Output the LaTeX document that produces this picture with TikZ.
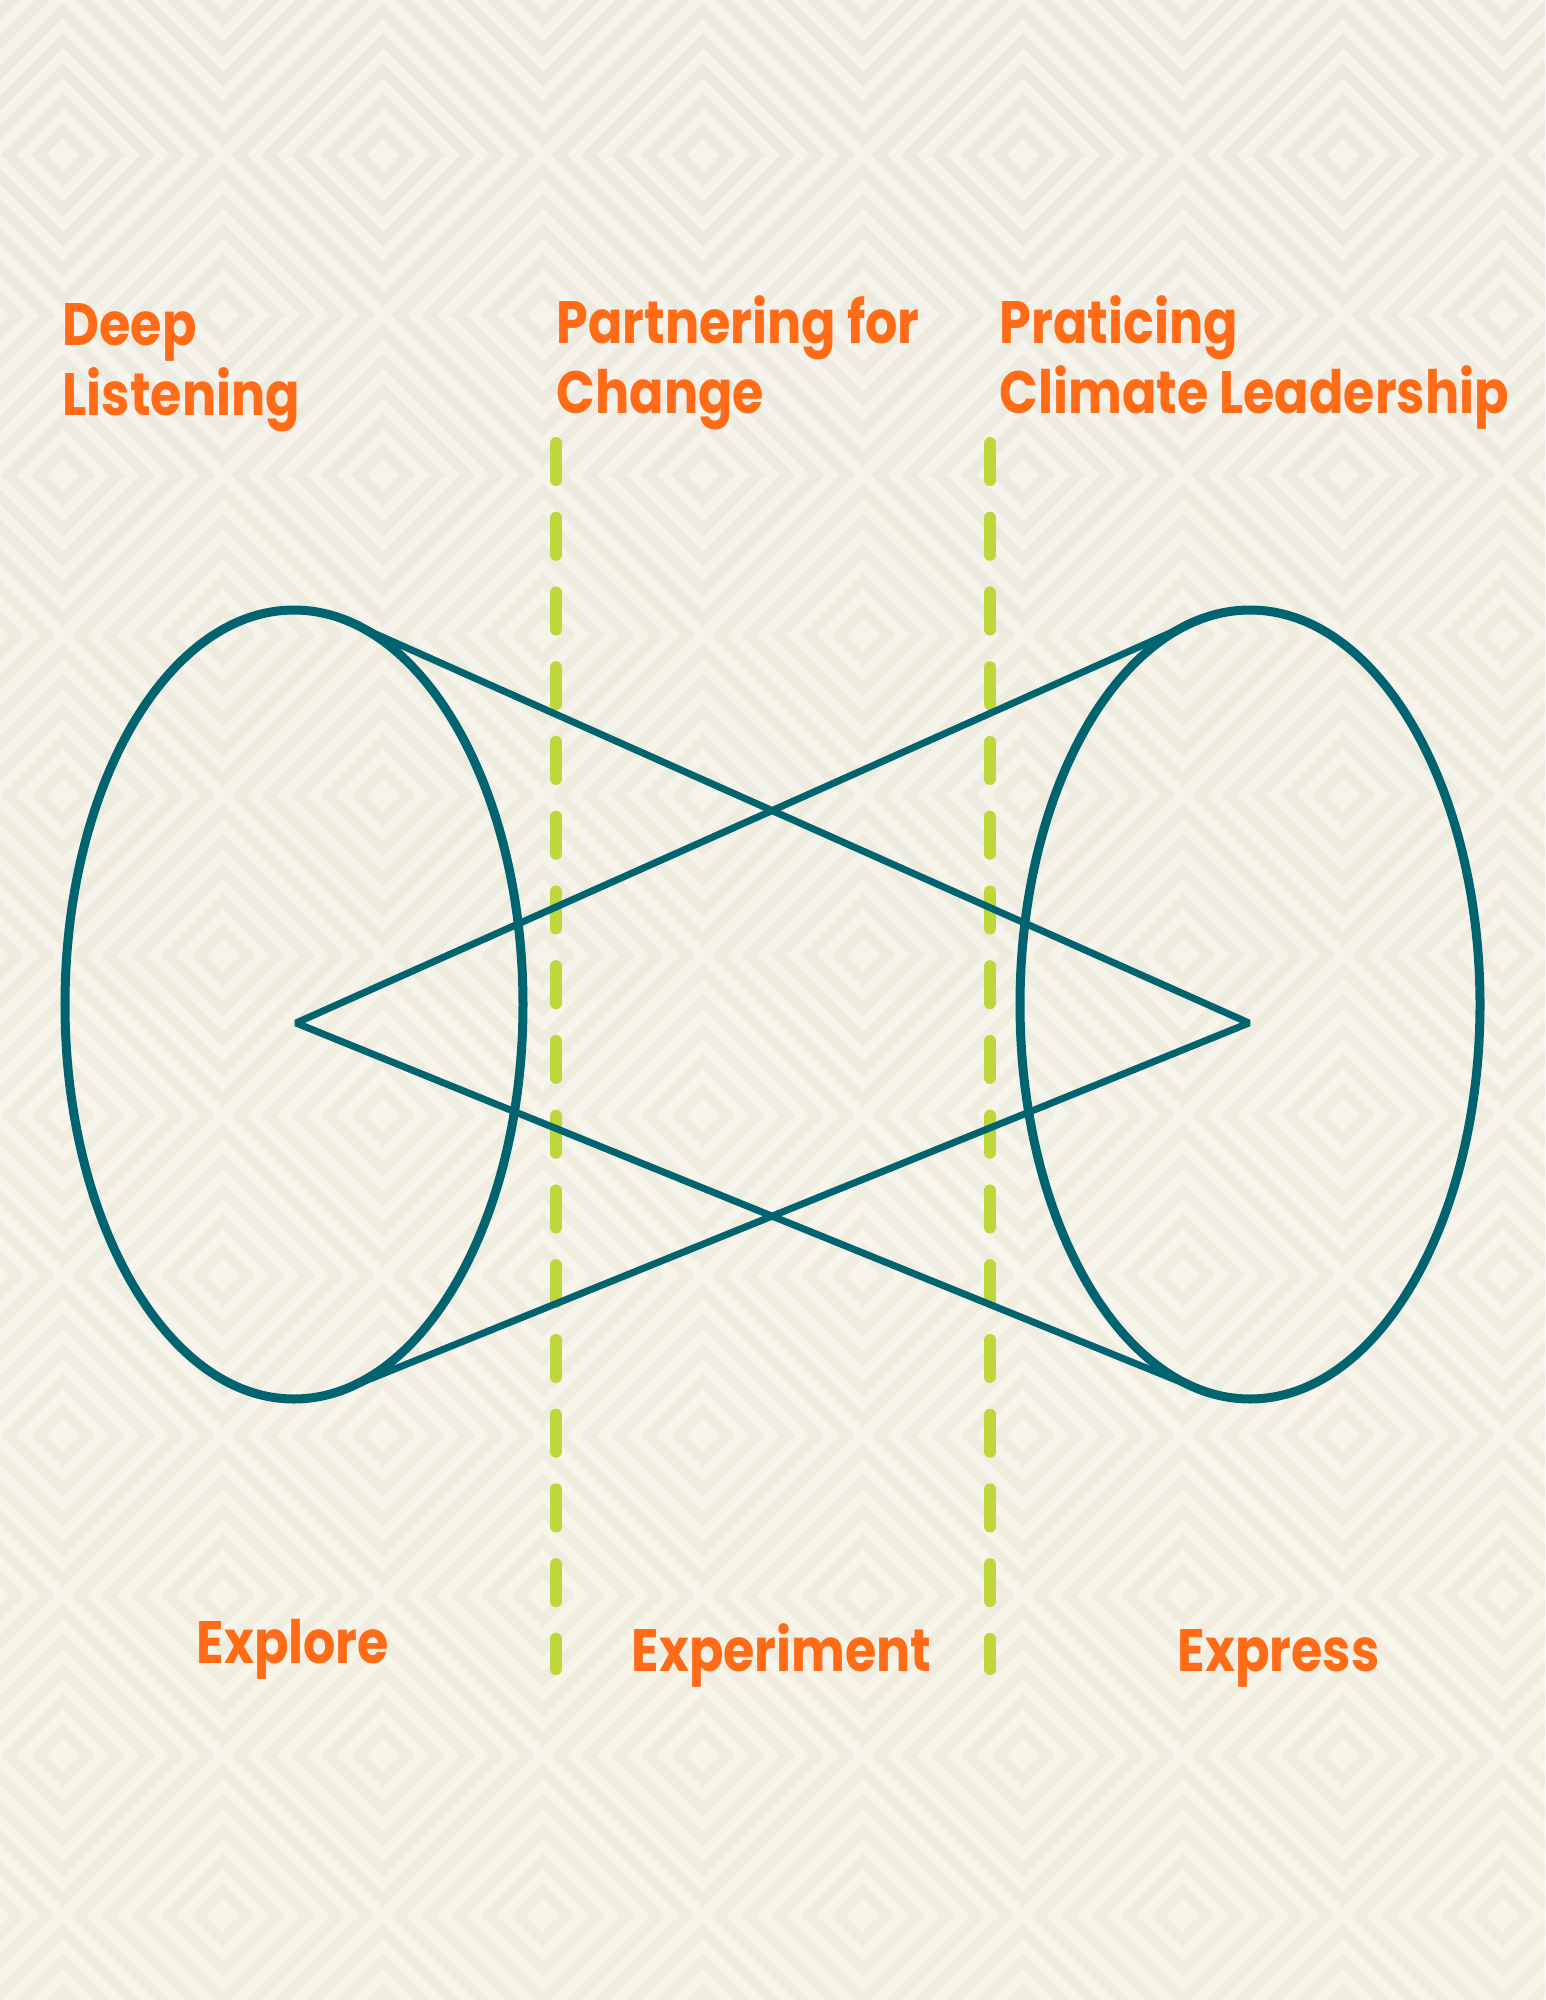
\documentclass[tikz,border=0pt]{standalone}
\usepackage{fontspec}
\newfontfamily\stagefont{Poppins}[FakeStretch=0.85]
\definecolor{conecol}{HTML}{006470}
\definecolor{dashcol}{HTML}{BED73B}
\definecolor{stagecol}{HTML}{FF6B17}
\definecolor{bgtop}{HTML}{F6F3EC}
\definecolor{bgbot}{HTML}{F7F4EA}
\definecolor{ringtop}{HTML}{ECE9DF}
\definecolor{ringbot}{HTML}{F1EEE0}
\tikzset{
  cone/.style={draw=conecol, line width=0.09cm},
  ray/.style={draw=conecol, line width=0.07cm, line join=bevel},
  divider/.style={draw=dashcol, line width=0.12cm, line cap=round, dash pattern=on 0.37cm off 0.377cm},
  stagetext/.style={text=stagecol, inner sep=0pt, align=left, anchor=base west,
    font=\stagefont\bfseries\fontsize{17}{19.9}\selectfont}
}
\begin{document}
\begin{tikzpicture}[x=0.01cm,y=-0.01cm]
  \useasboundingbox (0,0) rectangle (1545,2000);

  % Background
  \shade[top color=bgtop, bottom color=bgbot] (0,0) rectangle (1545,2000);
  \begin{scope}
  \clip (0,0) rectangle (1545,2000);
  \foreach \ox/\oy in {63/155,223/315}{
    \foreach \j in {-1,...,6}{
      \foreach \i in {-1,...,5}{
        \pgfmathsetmacro\cx{\ox+320*\i}
        \pgfmathsetmacro\cy{\oy+320*\j}
        \pgfmathtruncatemacro\mixp{max(0,min(100,100-\cy/20))}
        \colorlet{ringcol}{ringtop!\mixp!ringbot}
        \foreach \k in {0,...,4}{
          \pgfmathsetmacro\ra{17+30*\k}
          \pgfmathsetmacro\rb{32+30*\k}
          \fill[ringcol, even odd rule]
            (\cx+\rb,\cy) -- (\cx,\cy+\rb) -- (\cx-\rb,\cy) -- (\cx,\cy-\rb) -- cycle
            (\cx+\ra,\cy) -- (\cx,\cy+\ra) -- (\cx-\ra,\cy) -- (\cx,\cy-\ra) -- cycle;
        }
      }
    }
  }
  \end{scope}

  % Dividers
  \coordinate (d1top) at (556,443);
  \coordinate (d1bot) at (556,1669);
  \coordinate (d2top) at (990,443);
  \coordinate (d2bot) at (990,1669);
  \draw[divider] (d1top) -- (d1bot);
  \draw[divider] (d2top) -- (d2bot);

  % Cones
  \coordinate (lc) at (294,1004.5);
  \coordinate (rc) at (1250,1004.5);
  \coordinate (lv) at (296,1023);
  \coordinate (rv) at (1249,1023);
  \coordinate (lt) at (351,623);
  \coordinate (lb) at (346.5,1388.5);
  \coordinate (rt) at (1192.5,623);
  \coordinate (rb) at (1197,1388.5);
  \draw[cone] (lc) ellipse [x radius=229, y radius=394.5];
  \draw[cone] (rc) ellipse [x radius=230, y radius=394.5];
  \draw[ray] (lt) -- (rv) -- (lb);
  \draw[ray] (rt) -- (lv) -- (rb);

  % Labels
  \node[stagetext] (listen) at (62,415) {Deep\\Listening};
  \node[stagetext] (partner) at (556,413) {Partnering for\\Change};
  \node[stagetext] (lead) at (999,413) {Praticing\\Climate Leadership};
  \node[stagetext] (explore) at (196,1663) {Explore};
  \node[stagetext] (experiment) at (631,1671) {Experiment};
  \node[stagetext] (express) at (1177,1671) {Express};
\end{tikzpicture}
\end{document}
